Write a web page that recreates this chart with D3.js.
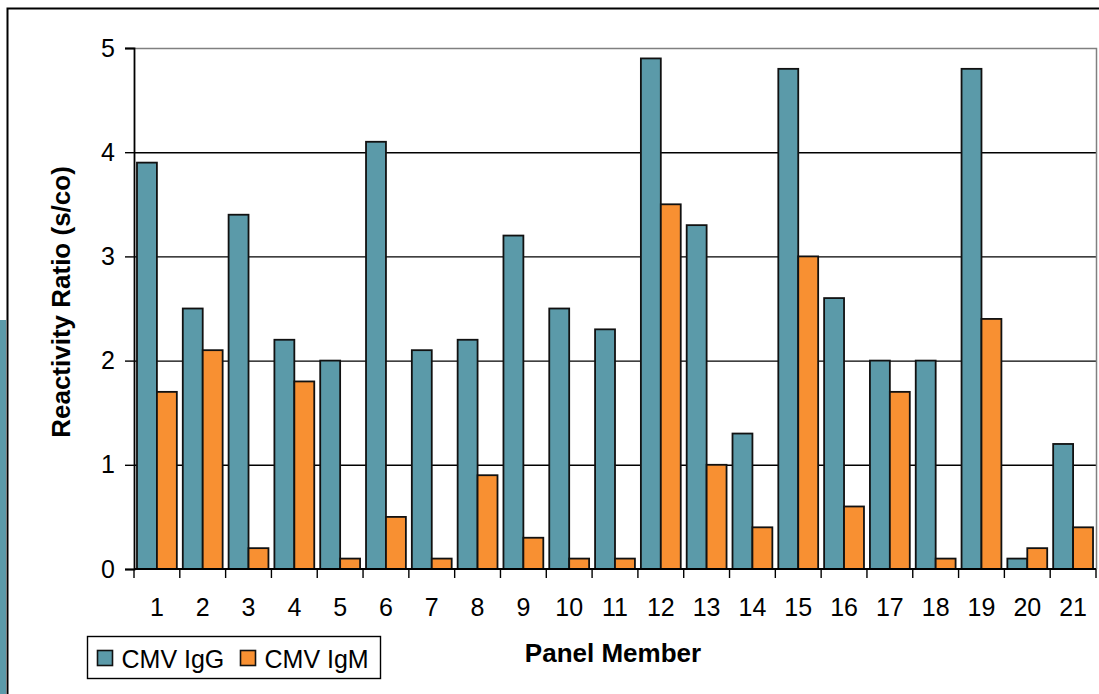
<!DOCTYPE html>
<html>
<head>
<meta charset="utf-8">
<script src="https://cdn.jsdelivr.net/npm/d3@7.9.0/dist/d3.min.js"></script>
<style>
  body { margin: 0; background: #fff; }
  svg { display: block; font-family: "Liberation Sans", Arial, sans-serif; }
</style>
</head>
<body>
<svg id="chart" width="1099" height="694"></svg>
<script>
// panel members 1..21
const members = ["1","2","3","4","5","6","7","8","9","10","11","12","13","14","15","16","17","18","19","20","21"];
const igg = [3.9, 2.5, 3.4, 2.2, 2.0, 4.1, 2.1, 2.2, 3.2, 2.5, 2.3, 4.9, 3.3, 1.3, 4.8, 2.6, 2.0, 2.0, 4.8, 0.1, 1.2];
const igm = [1.7, 2.1, 0.2, 1.8, 0.1, 0.5, 0.1, 0.9, 0.3, 0.1, 0.1, 3.5, 1.0, 0.4, 3.0, 0.6, 1.7, 0.1, 2.4, 0.2, 0.4];
const seriesNames = ["CMV IgG", "CMV IgM"];
const yTicks = [0, 1, 2, 3, 4, 5];

const colors = ["#5B9AA9", "#F89032"];

const svg = d3.select("#chart");

// outer frame + left strip (piece of neighbouring shape)
svg.append("rect").attr("x", 0).attr("y", 320).attr("width", 6).attr("height", 380).attr("fill", "#5B9AA9");
svg.append("path").attr("d", "M7.5,700 V8.5 H1110").attr("fill", "none").attr("stroke", "#000").attr("stroke-width", 2);

const pLeft = 134, pRight = 1096, pTop = 48, pBottom = 569;

const x = d3.scaleBand().domain(members).range([pLeft, pRight]).paddingInner(0.13).paddingOuter(0.065);
const x1 = d3.scaleBand().domain([0, 1]).range([0, x.bandwidth()]);
const y = d3.scaleLinear().domain([0, 5]).range([pBottom, pTop]);

// gridlines
svg.append("g").selectAll("line").data(yTicks.filter(d => d > 0 && d < 5)).join("line")
  .attr("x1", pLeft).attr("x2", pRight)
  .attr("y1", d => y(d) + 0.5).attr("y2", d => y(d) + 0.5)
  .attr("stroke", "#000").attr("stroke-width", 1.4);

// plot border top/right (gray)
svg.append("path")
  .attr("d", `M${pLeft},${y(5) + 0.5} H${pRight + 0.5} V${pBottom}`)
  .attr("fill", "none").attr("stroke", "#808080").attr("stroke-width", 1.5);

// bars
const data = members.map((m, i) => ({ m, vals: [igg[i], igm[i]] }));
const g = svg.append("g").selectAll("g").data(data).join("g")
  .attr("transform", d => `translate(${x(d.m)},0)`);
g.selectAll("rect").data(d => d.vals).join("rect")
  .attr("x", (d, i) => x1(i))
  .attr("width", x1.bandwidth())
  .attr("y", d => y(d))
  .attr("height", d => y(0) - y(d))
  .attr("fill", (d, i) => colors[i])
  .attr("stroke", "#111").attr("stroke-width", 1.8);

// y axis
const yAxis = svg.append("g").attr("transform", `translate(${pLeft},0)`)
  .call(d3.axisLeft(y).tickValues(yTicks).tickSize(9).tickPadding(10).tickFormat(d3.format("d")));
yAxis.select(".domain").attr("stroke", "#000").attr("stroke-width", 1.8);
yAxis.selectAll(".tick line").attr("stroke", "#000").attr("stroke-width", 1.4);
yAxis.selectAll("text").attr("font-size", 25).attr("fill", "#000")
  .attr("font-family", "Liberation Sans, Arial, sans-serif");

// x axis with ticks between categories
const xAxis = svg.append("g").attr("transform", `translate(0,${pBottom})`);
xAxis.append("line").attr("x1", pLeft).attr("x2", pRight).attr("stroke", "#000").attr("stroke-width", 1.8);
xAxis.selectAll(".sep").data(d3.range(members.length + 1)).join("line")
  .attr("class", "sep")
  .attr("x1", i => pLeft + i * (pRight - pLeft) / members.length)
  .attr("x2", i => pLeft + i * (pRight - pLeft) / members.length)
  .attr("y1", 0).attr("y2", 9)
  .attr("stroke", "#000").attr("stroke-width", 1.4);
xAxis.selectAll(".lab").data(members).join("text")
  .attr("class", "lab")
  .attr("x", d => x(d) + x.bandwidth() / 2)
  .attr("y", 47)
  .attr("text-anchor", "middle")
  .attr("font-size", 25)
  .text(d => d);

// axis titles
svg.append("text")
  .attr("transform", `translate(70,302) rotate(-90)`)
  .attr("text-anchor", "middle")
  .attr("font-weight", "bold").attr("font-size", 26)
  .text("Reactivity Ratio (s/co)");
svg.append("text")
  .attr("x", 613).attr("y", 662)
  .attr("text-anchor", "middle")
  .attr("font-weight", "bold").attr("font-size", 26)
  .text("Panel Member");

// legend
const legend = svg.append("g").attr("transform", "translate(87.5,636.5)");
legend.append("rect").attr("width", 293).attr("height", 42).attr("fill", "#fff").attr("stroke", "#000").attr("stroke-width", 1.4);
const lx = [10, 153];
seriesNames.forEach((s, i) => {
  legend.append("rect").attr("x", lx[i]).attr("y", 14).attr("width", 15).attr("height", 15)
    .attr("fill", colors[i]).attr("stroke", "#111").attr("stroke-width", 1.6);
  legend.append("text").attr("x", lx[i] + 24).attr("y", 31)
    .attr("font-size", 25).text(s);
});
</script>
</body>
</html>
